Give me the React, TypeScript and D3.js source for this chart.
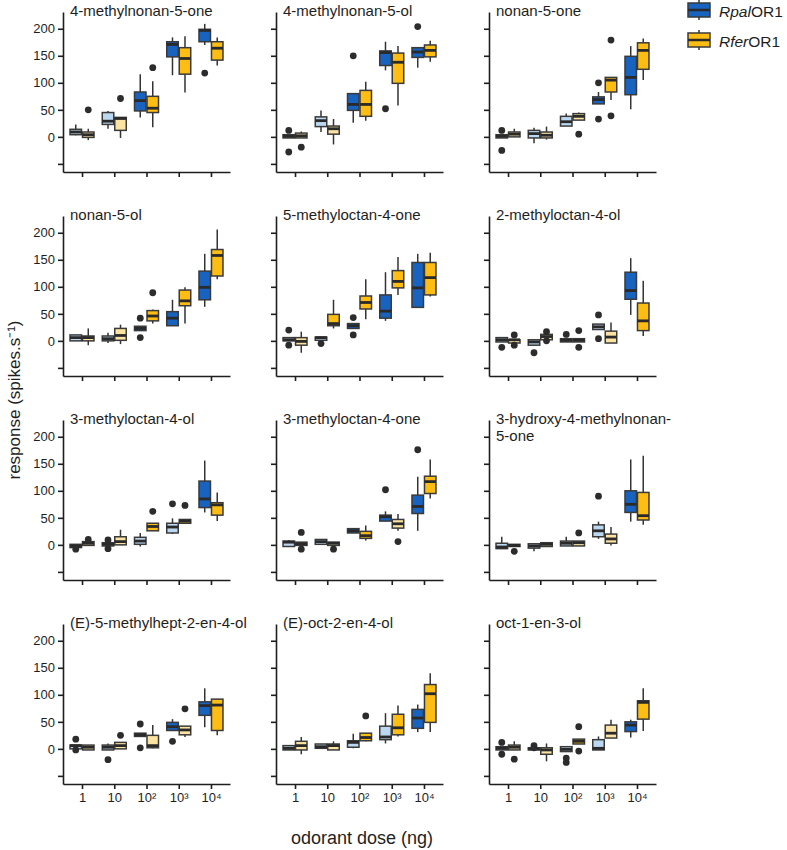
import { useEffect, useRef } from "react";
import * as d3 from "d3";

// doses along the x axis
const doses = ["1", "10", "10²", "10³", "10⁴"];
const strains = ["Rpal", "Rfer"];
const yTicks = [-50, 0, 50, 100, 150, 200];

const odorants = [
  "4-methylnonan-5-one",
  "4-methylnonan-5-ol",
  "nonan-5-one",
  "nonan-5-ol",
  "5-methyloctan-4-one",
  "2-methyloctan-4-ol",
  "3-methyloctan-4-ol",
  "3-methyloctan-4-one",
  "3-hydroxy-4-methylnonan-\n5-one",
  "(E)-5-methylhept-2-en-4-ol",
  "(E)-oct-2-en-4-ol",
  "oct-1-en-3-ol",
];

// [whisker low, q1, median, q3, whisker high] per dose
const rpalBoxes = [
  [[3, 4, 9, 14, 23], [15, 23, 29, 45, 48], [36, 48, 67, 83, 116], [114, 148, 171, 176, 184], [170, 176, 197, 199, 209]],
  [[-2, -2, 1, 4, 4], [9, 19, 30, 37, 49], [26, 49, 60, 80, 80], [123, 132, 156, 159, 176], [128, 147, 157, 165, 165]],
  [[-2, -2, 1, 4, 4], [-12, -2, 6, 12, 17], [20, 20, 28, 38, 43], [61, 61, 69, 74, 83], [51, 78, 110, 149, 168]],
  [[0, 0, 6, 11, 11], [-4, 0, 4, 9, 15], [19, 19, 23, 27, 27], [28, 28, 42, 54, 76], [63, 76, 99, 129, 161]],
  [[0, 0, 2, 6, 6], [1, 1, 6, 7, 7], [23, 23, 28, 32, 32], [37, 42, 55, 85, 127], [62, 62, 98, 145, 161]],
  [[-2, -2, 2, 6, 6], [-8, -8, -2, 2, 2], [-2, -2, 1, 4, 4], [21, 21, 26, 31, 31], [48, 77, 93, 127, 153]],
  [[-5, -5, -2, 1, 1], [-2, -2, 1, 4, 4], [-3, 1, 7, 14, 22], [20, 22, 33, 40, 49], [60, 69, 85, 118, 156]],
  [[-3, -3, 5, 7, 9], [1, 1, 6, 10, 10], [22, 22, 26, 30, 30], [44, 44, 52, 55, 62], [26, 58, 71, 92, 126]],
  [[-7, -7, -4, 3, 15], [-12, -6, -2, 2, 2], [-2, -2, 3, 7, 15], [11, 15, 26, 37, 43], [43, 60, 75, 100, 158]],
  [[0, 0, 6, 7, 7], [-2, -2, 3, 7, 10], [23, 23, 26, 29, 29], [34, 34, 41, 49, 55], [40, 62, 80, 87, 112]],
  [[-2, -2, 1, 6, 6], [1, 1, 4, 9, 9], [1, 3, 12, 15, 28], [10, 17, 22, 42, 66], [31, 38, 57, 73, 82]],
  [[-2, -2, 1, 4, 4], [-2, -2, 0, 2, 2], [-5, -5, -1, 4, 4], [-2, -2, 1, 17, 23], [21, 32, 44, 50, 54]],
];

const rferBoxes = [
  [[-6, -1, 4, 9, 15], [-2, 12, 34, 36, 36], [18, 45, 53, 75, 103], [82, 116, 145, 165, 186], [132, 142, 164, 176, 184]],
  [[-2, -2, 2, 7, 10], [-14, 5, 15, 20, 33], [30, 38, 60, 86, 102], [58, 99, 138, 155, 168], [139, 148, 160, 170, 178]],
  [[0, 0, 5, 9, 15], [-5, -2, 3, 9, 19], [31, 31, 38, 43, 45], [68, 83, 105, 110, 110], [105, 125, 160, 174, 182]],
  [[-8, 0, 6, 9, 23], [-6, 1, 10, 23, 30], [32, 37, 46, 56, 58], [32, 65, 74, 94, 99], [114, 120, 158, 169, 206]],
  [[-22, -8, -1, 6, 17], [23, 28, 32, 49, 76], [40, 59, 71, 83, 114], [85, 98, 110, 130, 155], [82, 85, 117, 145, 163]],
  [[-4, -4, 2, 2, 2], [2, 2, 8, 12, 12], [-2, -2, 1, 4, 4], [-4, -4, 7, 18, 34], [9, 19, 37, 70, 111]],
  [[-1, -1, 3, 6, 6], [0, 0, 6, 15, 28], [26, 26, 34, 40, 40], [40, 40, 44, 47, 47], [44, 55, 74, 78, 97]],
  [[-1, -1, 2, 5, 5], [-1, -1, 3, 5, 5], [8, 12, 17, 25, 36], [26, 31, 39, 47, 57], [86, 95, 117, 127, 158]],
  [[-3, -3, -1, 1, 1], [-3, -3, 1, 4, 4], [-2, -2, 4, 7, 7], [-1, 3, 11, 20, 33], [37, 46, 54, 97, 165]],
  [[-2, -2, 3, 7, 7], [0, 0, 6, 12, 12], [1, 2, 6, 25, 44], [22, 26, 35, 42, 42], [25, 34, 81, 92, 92]],
  [[-10, -2, 6, 14, 22], [-2, -2, 6, 9, 14], [14, 15, 21, 29, 29], [23, 26, 39, 64, 80], [31, 49, 102, 119, 140]],
  [[-2, -2, 3, 7, 14], [-23, -10, -2, 2, 10], [9, 9, 14, 18, 18], [20, 20, 29, 44, 54], [33, 55, 86, 89, 112]],
];

const rpalOutliers = [
  [[], [], [], [], [118]],
  [[12, -28], [], [150], [52], [204]],
  [[12, -25], [], [], [100, 33], []],
  [[], [], [42, 6], [], []],
  [[20, -8], [-5], [43, 11], [], []],
  [[-12], [-22], [12], [48, 4], []],
  [[-8], [9, -7], [], [76], []],
  [[], [], [], [102], [176]],
  [[], [], [], [90], []],
  [[18, -2], [-20], [46, 2], [14], []],
  [[], [], [], [], []],
  [[12, -10], [6, 2], [-17, -25], [], []],
];

const rferOutliers = [
  [[50], [71], [128], [], []],
  [[-19], [], [], [], []],
  [[], [], [5], [179, 39], []],
  [[], [], [89], [], []],
  [[], [], [], [], []],
  [[11, -8], [17, 0], [19, -12], [], []],
  [[10], [], [62], [73], []],
  [[23, -8], [-8], [], [6], []],
  [[-12], [], [22], [], []],
  [[], [25], [], [74], []],
  [[], [], [61], [], []],
  [[-19], [], [41, -4], [], []],
];

// 1 = significant response (dark fill), 0 = light fill
const rpalSignificant = [
  [0, 0, 1, 1, 1], [0, 0, 1, 1, 1], [0, 0, 0, 1, 1], [0, 0, 1, 1, 1],
  [0, 0, 1, 1, 1], [0, 0, 0, 0, 1], [0, 0, 0, 0, 1], [0, 0, 1, 1, 1],
  [0, 0, 0, 0, 1], [0, 0, 1, 1, 1], [0, 0, 0, 0, 1], [0, 0, 0, 0, 1],
];
const rferSignificant = [
  [0, 0, 1, 1, 1], [0, 0, 1, 1, 1], [0, 0, 0, 1, 1], [0, 0, 1, 1, 1],
  [0, 1, 1, 1, 1], [0, 0, 0, 0, 1], [0, 0, 1, 1, 1], [0, 0, 1, 0, 1],
  [0, 0, 0, 0, 1], [0, 0, 0, 0, 1], [0, 0, 1, 1, 1], [0, 0, 1, 0, 1],
];

const colors = {
  Rpal: ["#bcd8f1", "#1862c0"],
  Rfer: ["#fbe4a2", "#fdbd12"],
};

const FONT = "Liberation Sans, Arial, Helvetica, sans-serif";

export default function App() {
  const svgRef = useRef<SVGSVGElement>(null);

  useEffect(() => {
    if (!svgRef.current) return;
    const svg = d3.select(svgRef.current);
    svg.selectAll("*").remove();

    const colX = [63, 276, 489];
    const plotW = 167;
    const plotH = 160;

    odorants.forEach((name, i) => {
      const r = Math.floor(i / 3);
      const c = i % 3;
      const x0 = colX[c];
      const top = 12 + r * 204;

      const x = d3.scalePoint().domain(doses).range([x0, x0 + plotW]).padding(0.59);
      const y = d3.scaleLinear().domain([-65, 231]).range([top + plotH, top]);
      const sub = d3.scaleBand().domain(strains).range([-12.5, 12.5]);
      const bw = sub.bandwidth();

      const g = svg.append("g");

      // axes
      const yAxis = g.append("g")
        .attr("transform", `translate(${x0},0)`)
        .call(d3.axisLeft(y).tickValues(yTicks).tickSize(5).tickSizeOuter(0).tickPadding(3)
          .tickFormat((d) => (c === 0 && +d !== -50 ? String(d) : "")));
      const xAxis = g.append("g")
        .attr("transform", `translate(0,${top + plotH})`)
        .call(d3.axisBottom(x).tickSize(5).tickSizeOuter(0).tickPadding(4)
          .tickFormat((d) => (r === 3 ? String(d) : "")));
      [yAxis, xAxis].forEach((a) => {
        a.attr("font-family", FONT).attr("font-size", 13);
        a.selectAll("path, line").attr("stroke", "#1e1e1e").attr("stroke-width", 1.6);
        a.selectAll("text").attr("fill", "#1e1e1e");
      });

      // title
      const lines = name.split("\n");
      const title = g.append("text")
        .attr("x", x0 + 7)
        .attr("y", top + 3.5)
        .attr("font-family", FONT)
        .attr("font-size", 15)
        .attr("fill", "#1e1e1e");
      lines.forEach((ln, k) => {
        title.append("tspan").attr("x", x0 + 7).attr("dy", k === 0 ? 0 : 17.5).text(ln);
      });

      // boxes
      doses.forEach((dose, di) => {
        strains.forEach((s) => {
          const stats = s === "Rpal" ? rpalBoxes[i][di] : rferBoxes[i][di];
          const outs = s === "Rpal" ? rpalOutliers[i][di] : rferOutliers[i][di];
          const sig = s === "Rpal" ? rpalSignificant[i][di] : rferSignificant[i][di];
          const cx = (x(dose) as number) + (sub(s) as number) + bw / 2;
          const [lo, q1, med, q3, hi] = stats;

          g.append("line")
            .attr("x1", cx).attr("x2", cx)
            .attr("y1", y(lo)).attr("y2", y(hi))
            .attr("stroke", "#333").attr("stroke-width", 1.5);
          g.append("rect")
            .attr("x", cx - bw / 2 + 0.5)
            .attr("width", bw - 1)
            .attr("y", y(q3))
            .attr("height", Math.max(y(q1) - y(q3), 1))
            .attr("fill", colors[s as "Rpal" | "Rfer"][sig])
            .attr("stroke", "#3a3a3a")
            .attr("stroke-width", 1.5);
          g.append("line")
            .attr("x1", cx - bw / 2 + 0.5).attr("x2", cx + bw / 2 - 0.5)
            .attr("y1", y(med)).attr("y2", y(med))
            .attr("stroke", "#2a2a2a").attr("stroke-width", 2.8);
          g.selectAll(null)
            .data(outs)
            .enter()
            .append("circle")
            .attr("cx", cx)
            .attr("cy", (d) => y(d))
            .attr("r", 3.4)
            .attr("fill", "#2c2c2c");
        });
      });
    });

    // legend
    const legend = svg.append("g");
    strains.forEach((s, k) => {
      const ty = 3 + k * 30;
      legend.append("line")
        .attr("x1", 699).attr("x2", 699)
        .attr("y1", ty - 3).attr("y2", ty + 17)
        .attr("stroke", "#333").attr("stroke-width", 1.5);
      legend.append("rect")
        .attr("x", 688).attr("y", ty).attr("width", 22).attr("height", 14)
        .attr("fill", colors[s as "Rpal" | "Rfer"][1])
        .attr("stroke", "#3a3a3a").attr("stroke-width", 1.5);
      legend.append("line")
        .attr("x1", 688).attr("x2", 710)
        .attr("y1", ty + 7).attr("y2", ty + 7)
        .attr("stroke", "#2a2a2a").attr("stroke-width", 2.5);
      const t = legend.append("text")
        .attr("x", 719).attr("y", ty + 14)
        .attr("font-family", FONT).attr("font-size", 15.5).attr("fill", "#1e1e1e");
      t.append("tspan").attr("font-style", "italic").text(s);
      t.append("tspan").text("OR1");
    });

    // axis titles
    svg.append("text")
      .attr("transform", "translate(20,400) rotate(-90)")
      .attr("text-anchor", "middle")
      .attr("font-family", FONT).attr("font-size", 17).attr("fill", "#1e1e1e")
      .text("response (spikes.s⁻¹)");
    svg.append("text")
      .attr("x", 362).attr("y", 844)
      .attr("text-anchor", "middle")
      .attr("font-family", FONT).attr("font-size", 18).attr("fill", "#1e1e1e")
      .text("odorant dose (ng)");
  }, []);

  return (
    <svg
      ref={svgRef}
      width={787}
      height={850}
      style={{ position: "absolute", left: 0, top: 0, background: "#fff" }}
    />
  );
}
